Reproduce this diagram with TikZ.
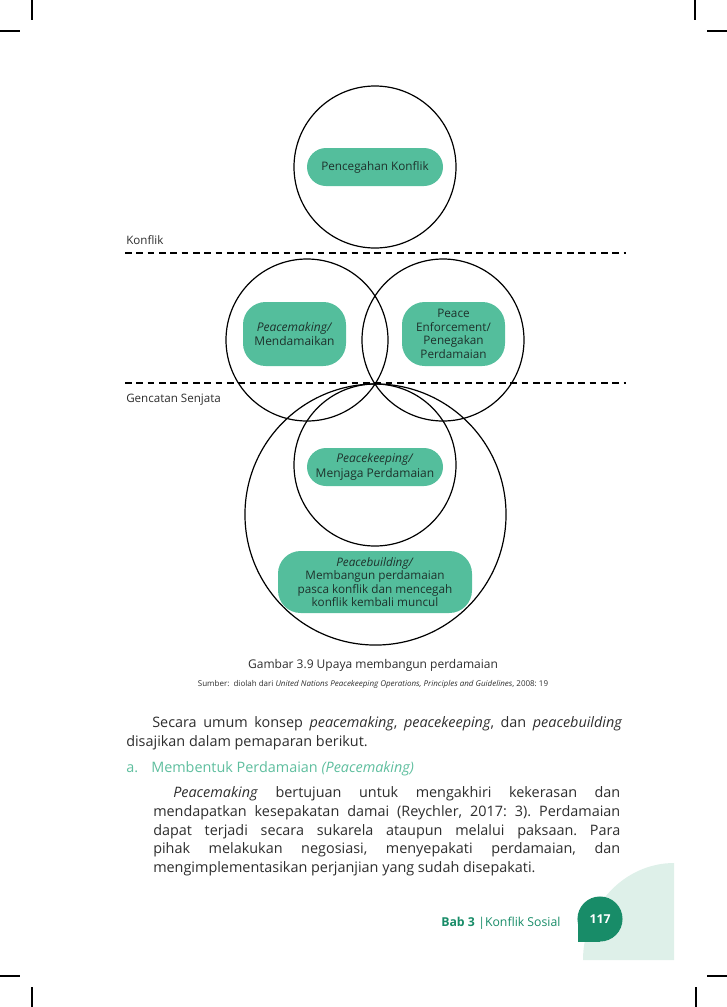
\documentclass[tikz,border=0pt]{standalone}
\usepackage{fontspec}
\setmainfont{Open Sans}
\usepackage{xcolor}
\usepackage{tikz}
\frenchspacing

\definecolor{pillgreen}{RGB}{84,190,156}
\definecolor{pilltext}{RGB}{30,50,44}
\definecolor{bodytext}{RGB}{45,45,45}
\definecolor{headgreen}{RGB}{94,190,158}
\definecolor{footgreen}{RGB}{24,140,104}
\definecolor{mint}{RGB}{222,240,233}

\tikzset{
  pill/.style={rectangle, fill=pillgreen, text=pilltext, align=center, inner sep=0pt, font=\fontsize{8.8}{10.2}\selectfont},
  lbl/.style={anchor=base west, inner sep=0pt, text=bodytext},
  body/.style={lbl, font=\fontsize{10.8}{13}\selectfont},
  ring/.style={line width=0.9pt},
  level/.style={line width=0.8pt, dash pattern=on 5pt off 3.5pt},
  crop/.style={line width=1.5pt}
}

\begin{document}
\begin{tikzpicture}[x=0.75pt, y=-0.75pt]
\useasboundingbox (0,0) rectangle (727,1007);

\draw[crop] (32,0) -- (32,20);
\draw[crop] (0,31) -- (20,31);
\draw[crop] (695,0) -- (695,20);
\draw[crop] (707,31) -- (727,31);
\draw[crop] (32,987) -- (32,1007);
\draw[crop] (0,976) -- (20,976);
\draw[crop] (696,987) -- (696,1007);
\draw[crop] (707,976) -- (727,976);

\draw[ring] (375,167) circle (60.75pt);
\draw[ring] (307,340) circle (60.75pt);
\draw[ring] (443,340) circle (60.75pt);
\draw[ring] (375,465) circle (60.75pt);
\draw[ring] (375.5,514.5) circle (97.9pt);

\draw[level] (125,253) -- (626,253);
\draw[level] (125,383) -- (626,383);
\node[lbl, font=\fontsize{8.7}{10}\selectfont] (konflik) at (126,244) {Konflik};
\node[lbl, font=\fontsize{8.7}{10}\selectfont] (gencatan) at (126,402) {Gencatan Senjata};

\node[pill, minimum width=102pt, minimum height=28.5pt, rounded corners=14.25pt] (pencegahan) at (375,167) {Pencegahan Konflik};
\node[pill, minimum width=77.25pt, minimum height=48pt, rounded corners=17pt, font=\fontsize{9}{11}\selectfont] (peacemaking) at (294.5,334) {\textit{Peacemaking/}\\Mendamaikan};
\node[pill, minimum width=77.25pt, minimum height=48pt, rounded corners=17pt] (enforcement) at (453.5,334) {Peace\\Enforcement/\\Penegakan\\Perdamaian};
\node[pill, minimum width=102pt, minimum height=28.5pt, rounded corners=14.25pt, font=\fontsize{9}{11}\selectfont] (peacekeeping) at (375,467) {\textit{Peacekeeping/}\\Menjaga Perdamaian};
\node[pill, minimum width=145.5pt, minimum height=46.5pt, rounded corners=17pt] (peacebuilding) at (375,582) {\textit{Peacebuilding/}\\Membangun perdamaian\\pasca konflik dan mencegah\\konflik kembali muncul};

\node[lbl, anchor=base, font=\fontsize{9}{11}\selectfont] (caption) at (373,668) {Gambar 3.9 Upaya membangun perdamaian};
\node[lbl, anchor=base, font=\fontsize{6}{7}\selectfont] (source) at (373,686) {Sumber:\ \ diolah dari \textit{United Nations Peacekeeping Operations, Principles and Guidelines}, 2008: 19};

\node[body] (intro1) at (152,727) {\makebox[352.5pt][s]{Secara umum konsep \textit{peacemaking}, \textit{peacekeeping}, dan \textit{peacebuilding}}};
\node[body] (intro2) at (126,746) {disajikan dalam pemaparan berikut.};
\node[body, text=headgreen] (headnum) at (126,772) {a.};
\node[body, text=headgreen] (headtext) at (151,772) {Membentuk Perdamaian \textit{(Peacemaking)}};
\node[body] (para1) at (173,797) {\makebox[335.25pt][s]{\textit{Peacemaking} bertujuan untuk mengakhiri kekerasan dan}};
\node[body] (para2) at (153,816) {\makebox[350.25pt][s]{mendapatkan kesepakatan damai (Reychler, 2017: 3). Perdamaian}};
\node[body] (para3) at (153,835) {\makebox[350.25pt][s]{dapat terjadi secara sukarela ataupun melalui paksaan. Para}};
\node[body] (para4) at (153,853.5) {\makebox[350.25pt][s]{pihak melakukan negosiasi, menyepakati perdamaian, dan}};
\node[body] (para5) at (153,872) {mengimplementasikan perjanjian yang sudah disepakati.};

\fill[mint] (583,960) .. controls (583,907) and (624,863) .. (674,863) -- (674,960) -- cycle;
\fill[footgreen] (600,919) circle (16.9pt);
\fill[footgreen] (577.5,919) rectangle (600,941.5);
\node[text=white, font=\fontsize{9.2}{11}\bfseries] (pagenum) at (600,919) {117};
\node[lbl, text=footgreen, font=\fontsize{9.2}{11}\bfseries] (babnum) at (441,926) {Bab 3};
\node[lbl, text=footgreen, font=\fontsize{9.2}{11}\selectfont] (babtitle) at (478,926) {|Konflik Sosial};
\end{tikzpicture}
\end{document}
